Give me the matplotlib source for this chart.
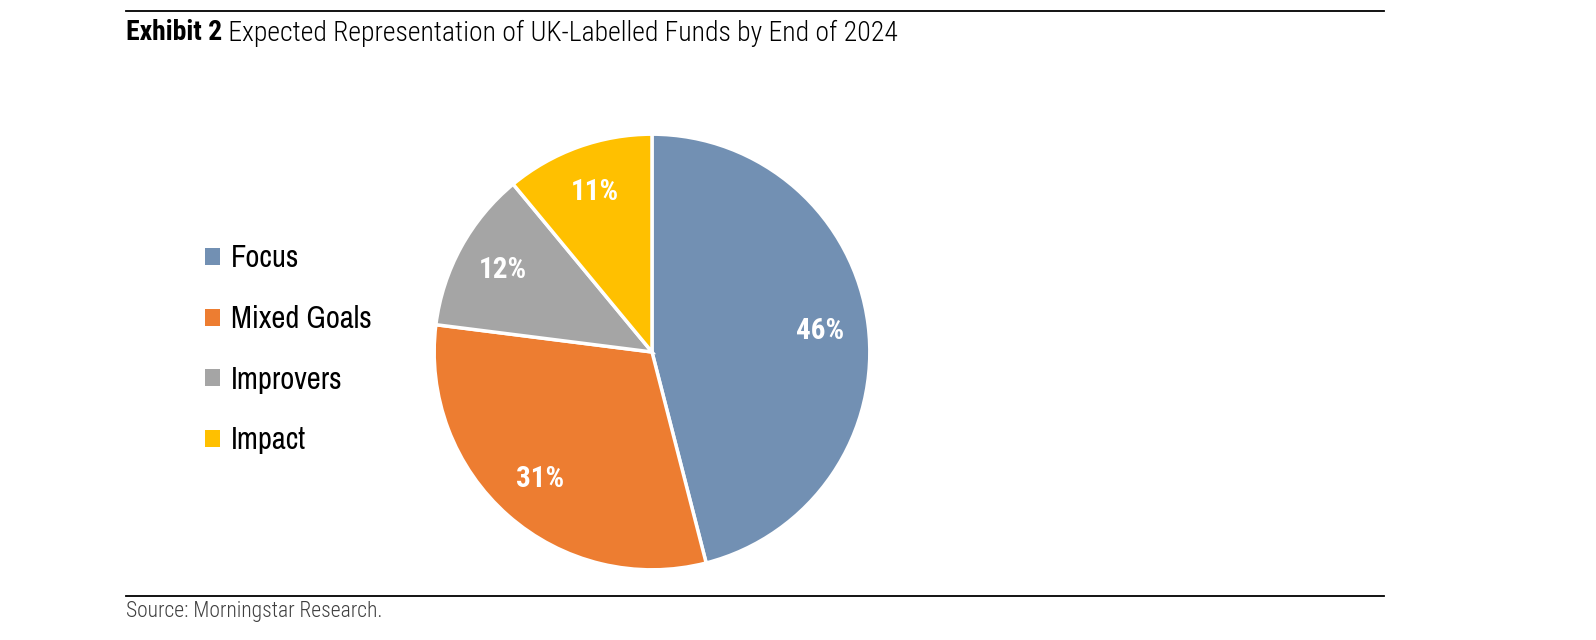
import matplotlib
matplotlib.use('Agg')
import matplotlib.pyplot as plt
from matplotlib.lines import Line2D

# data
labels = ['Focus', 'Mixed Goals', 'Improvers', 'Impact']
shares = [46, 31, 12, 11]
colors = ['#7290B3', '#ED7D31', '#A5A5A5', '#FFC000']

title_bold = 'Exhibit 2'
title_rest = ' Expected Representation of UK-Labelled Funds by End of 2024'
source = 'Source: Morningstar Research.'

cond = ['Roboto Condensed', 'DejaVu Sans']
narrow = ['Archivo Narrow', 'PT Sans Narrow', 'DejaVu Sans']

fig = plt.figure(figsize=(15.96, 6.4), dpi=100)
W, H = 1596, 640

# pie axes placed by pixel box: centre (652,352), radius ~220
ax = fig.add_axes([432 / W, (H - 572) / H, 440 / W, 440 / H])
wedges, texts, autotexts = ax.pie(shares, colors=colors, startangle=90, counterclock=False,
                                  autopct='%.0f%%', pctdistance=0.78,
                                  wedgeprops=dict(edgecolor='white', linewidth=2.5),
                                  textprops=dict(color='white', fontsize=21, fontweight='bold',
                                                 family=cond))
ax.set_xlim(-1.01, 1.01)
ax.set_ylim(-1.01, 1.01)
ax.set_aspect('equal')
ax.axis('off')

leg = fig.legend(wedges, labels, loc='upper left', bbox_to_anchor=(190 / W, (H - 229) / H),
                 frameon=False, prop=dict(family=narrow, size=22), handlelength=0.48,
                 handleheight=0.48, handletextpad=0.35, labelspacing=1.07, borderpad=0)
for h in leg.legend_handles:
    h.set_edgecolor('none')

# rules
fig.add_artist(Line2D([126 / W, 1384 / W], [(H - 11) / H] * 2, color='black', lw=1.3))
fig.add_artist(Line2D([126 / W, 1384 / W], [(H - 596) / H] * 2, color='black', lw=1.3))

# title
t = fig.text(126 / W, (H - 33) / H, title_bold, fontsize=20, fontweight='bold', family=cond,
             va='center', ha='left')
fig.canvas.draw()
bb = t.get_window_extent()
fig.text(bb.x1 / W, (H - 33) / H, title_rest, fontsize=20, fontweight='light', family=cond,
         va='center', ha='left')

fig.text(126 / W, (H - 612) / H, source, fontsize=15.5, fontweight='light', family=cond,
         color='#3f3f3f', va='center', ha='left')

fig.savefig('out.png', dpi=100)
